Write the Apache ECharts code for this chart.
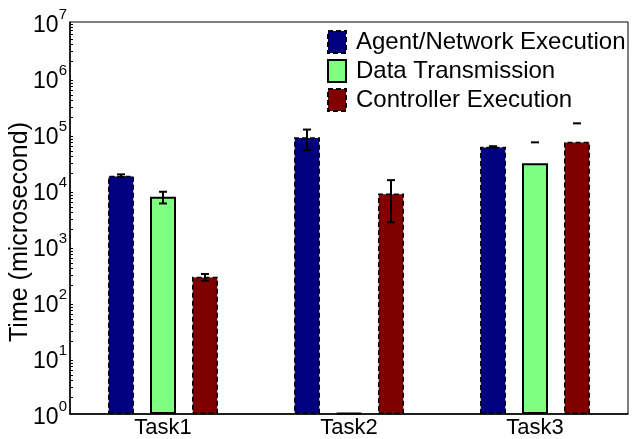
<!DOCTYPE html>
<html>
<head>
<meta charset="utf-8">
<script src="https://cdn.jsdelivr.net/npm/echarts@6/dist/echarts.min.js"></script>
<style>
  html, body { margin: 0; padding: 0; background: #fff; }
  #chart { width: 632px; height: 439px; }
</style>
</head>
<body>
<div id="chart"></div>
<script>
// data
const categories = ['Task1', 'Task2', 'Task3'];
const seriesNames = ['Agent/Network Execution', 'Data Transmission', 'Controller Execution'];

const agentValues = [18000, 87500, 59000];
const dataValues = [7600, 1.05, 30000];
const controllerValues = [283, 8700, 73000];

// error bar ends, null = end falls below the axis (not drawn)
const agentErrLow = [17000, 51500, 57500];
const agentErrHigh = [19000, 120000, 60500];
const dataErrLow = [5750, null, null];
const dataErrHigh = [9300, null, 71000];
const controllerErrLow = [240, 2650, null];
const controllerErrHigh = [316, 15000, 155000];

const COLORS = ['#000080', '#80ff80', '#800000'];
const FONT = 'Liberation Sans, Arial, Helvetica, sans-serif';
const BAR_W = 26;
const BAR_STEP = 42;   // center to center of neighbouring bars

const chart = echarts.init(document.getElementById('chart'));

function errData(lows, highs) {
  return categories.map((c, i) => [i, lows[i], highs[i]]);
}

function errSeries(idx, lows, highs) {
  return {
    type: 'custom',
    z: 10,
    silent: true,
    data: errData(lows, highs),
    renderItem: function (params, api) {
      const i = api.value(0);
      const lo = api.value(1);
      const hi = api.value(2);
      const x = api.coord([i, 1])[0] + (idx - 1) * BAR_STEP;
      const children = [];
      const style = { stroke: '#000', lineWidth: 2, fill: null };
      let yLo = null, yHi = null;
      if (hi) {
        yHi = api.coord([i, hi])[1];
        children.push({ type: 'line', shape: { x1: x - 4, y1: yHi, x2: x + 4, y2: yHi }, style });
      }
      if (lo) {
        yLo = api.coord([i, lo])[1];
        children.push({ type: 'line', shape: { x1: x - 4, y1: yLo, x2: x + 4, y2: yLo }, style });
      }
      if (yLo !== null && yHi !== null) {
        children.push({ type: 'line', shape: { x1: x, y1: yLo, x2: x, y2: yHi }, style });
      }
      return { type: 'group', children };
    }
  };
}

function barSeries(idx, values, dashed) {
  return {
    name: seriesNames[idx],
    type: 'bar',
    barWidth: BAR_W,
    barGap: ((BAR_STEP - BAR_W) / BAR_W * 100) + '%',
    data: values,
    itemStyle: {
      color: COLORS[idx],
      borderColor: '#000',
      borderWidth: dashed ? 1.5 : 2,
      borderType: dashed ? [5, 3] : 'solid'
    }
  };
}

chart.setOption({
  backgroundColor: '#fff',
  animation: false,
  textStyle: { fontFamily: FONT, color: '#000' },
  grid: {
    left: 70,
    right: 4,
    top: 22,
    bottom: 25,
    outerBoundsMode: 'none',
    show: true,
    borderColor: '#000',
    borderWidth: 1
  },
  legend: {
    orient: 'vertical',
    left: 322,
    top: 25,
    itemWidth: 18,
    itemHeight: 22,
    itemGap: 5,
    textStyle: { fontSize: 24, color: '#000', fontFamily: FONT, padding: [0, 0, 0, 5] },
    data: seriesNames.map((n, i) => ({
      name: n,
      icon: 'rect',
      itemStyle: {
        color: COLORS[i],
        borderColor: '#000',
        borderWidth: 2,
        borderType: i === 1 ? 'solid' : [5, 3]
      }
    }))
  },
  xAxis: {
    type: 'category',
    data: categories,
    axisLine: { lineStyle: { color: '#000', width: 1.5 } },
    axisTick: { alignWithLabel: true, inside: true, length: 5, lineStyle: { color: '#000' } },
    axisLabel: { fontSize: 22, color: '#000', margin: 3, fontFamily: FONT },
    splitLine: { show: false }
  },
  yAxis: {
    type: 'log',
    logBase: 10,
    min: 1,
    max: 1e7,
    name: 'Time (microsecond)',
    nameLocation: 'middle',
    nameGap: 37,
    nameMoveOverlap: false,
    nameTextStyle: { fontSize: 25, color: '#000', fontFamily: FONT, padding: [0, 28, 0, 0] },
    axisLine: { show: true, lineStyle: { color: '#000', width: 1.5 } },
    axisTick: { inside: true, length: 6, lineStyle: { color: '#000' } },
    minorTick: { show: true, splitNumber: 9, length: 3, lineStyle: { color: '#000' } },
    splitLine: { show: false },
    axisLabel: {
      margin: 3,
      fontFamily: FONT,
      formatter: function (v) {
        return '{b|10}{s|' + Math.round(Math.log10(v)) + '}';
      },
      rich: {
        b: { fontSize: 23, color: '#000', fontFamily: FONT, verticalAlign: 'bottom', lineHeight: 30 },
        s: { fontSize: 15, color: '#000', fontFamily: FONT, verticalAlign: 'top', lineHeight: 30 }
      }
    }
  },
  series: [
    barSeries(0, agentValues, true),
    barSeries(1, dataValues, false),
    barSeries(2, controllerValues, true),
    errSeries(0, agentErrLow, agentErrHigh),
    errSeries(1, dataErrLow, dataErrHigh),
    errSeries(2, controllerErrLow, controllerErrHigh)
  ]
});
</script>
</body>
</html>
